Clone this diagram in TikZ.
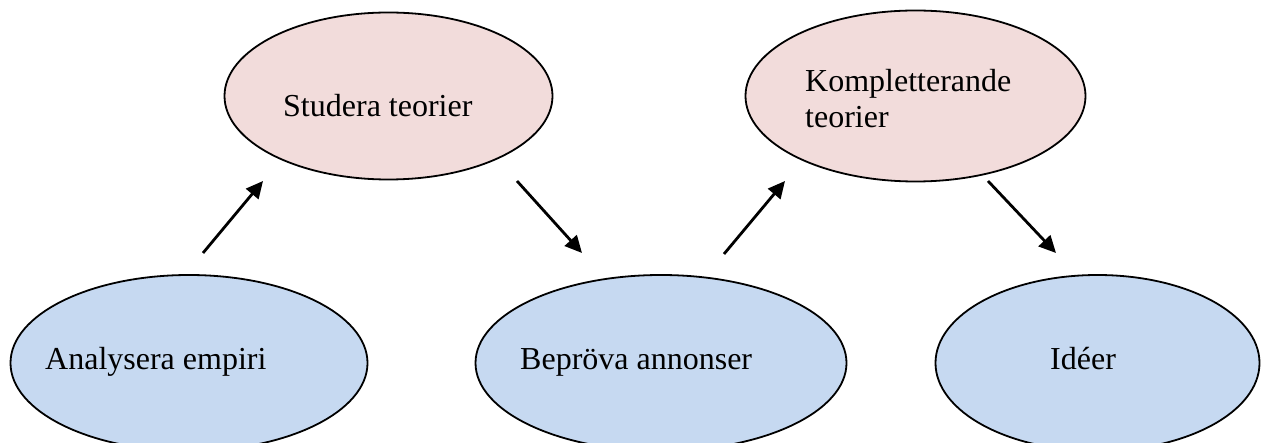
\documentclass[tikz,border=0pt]{standalone}
\usepackage{fontspec}
\setmainfont{Liberation Serif}
\usetikzlibrary{shapes.geometric,arrows.meta}

\definecolor{blueFill}{RGB}{198,217,241}
\definecolor{pinkFill}{RGB}{242,220,219}

\tikzset{
  oval/.style={ellipse, draw=black, line width=1.8pt, inner sep=0pt},
  bluebox/.style={oval, fill=blueFill},
  pinkbox/.style={oval, fill=pinkFill},
  lbl/.style={anchor=base west, inner sep=0pt, font=\fontsize{32}{36}\selectfont},
  arr/.style={line width=2.8pt, -{Triangle[length=17pt,width=16pt]}}
}

\begin{document}
\begin{tikzpicture}[x=1pt,y=-1pt]
  \useasboundingbox (0,0) rectangle (1261,443);
  \clip (0,0) rectangle (1261,443);

  % theory ovals (top row)
  \node[pinkbox, minimum width=328pt, minimum height=167pt] (studera) at (388.5,96) {};
  \node[pinkbox, minimum width=340pt, minimum height=171pt] (kompl) at (915.5,96) {};

  % empirical ovals (bottom row), running off the lower edge
  \node[bluebox, minimum width=357pt, minimum height=176pt] (analys) at (189,363) {};
  \node[bluebox, minimum width=371pt, minimum height=176pt] (beprova) at (661,363) {};
  \node[bluebox, minimum width=324pt, minimum height=176pt] (ideer) at (1097.5,363) {};

  % labels
  \node[lbl] (studera-t) at (283,117) {Studera teorier};
  \node[lbl] (kompl-t1) at (805,92) {Kompletterande};
  \node[lbl] (kompl-t2) at (805,128) {teorier};
  \node[lbl] (analys-t) at (45,370) {Analysera empiri};
  \node[lbl] (beprova-t) at (520,370) {Bepröva annonser};
  \node[lbl] (ideer-t) at (1050,370) {Idéer};

  % arrow end points
  \coordinate (a1s) at (203,253);
  \coordinate (a1e) at (263,181);
  \coordinate (a2s) at (517,181);
  \coordinate (a2e) at (582,253);
  \coordinate (a3s) at (724,254);
  \coordinate (a3e) at (785,181);
  \coordinate (a4s) at (988,181);
  \coordinate (a4e) at (1056,253);

  \draw[arr] (a1s) -- (a1e);
  \draw[arr] (a2s) -- (a2e);
  \draw[arr] (a3s) -- (a3e);
  \draw[arr] (a4s) -- (a4e);
\end{tikzpicture}
\end{document}
